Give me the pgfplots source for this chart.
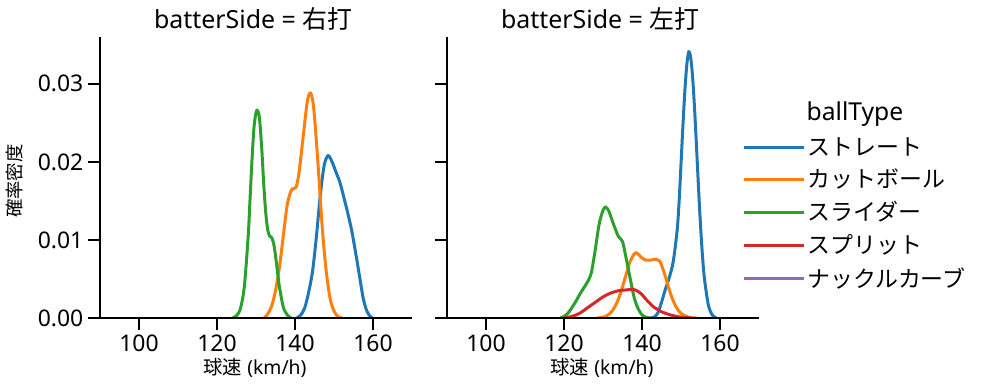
\documentclass[border=0pt]{standalone}
\usepackage{pgfplots}
\pgfplotsset{compat=1.18}
\usepackage{fontspec}
\setmainfont{Noto Sans}
\newfontfamily\jp{Noto Sans CJK JP}
\definecolor{cA}{HTML}{1F77B4}
\definecolor{cB}{HTML}{FF7F0E}
\definecolor{cC}{HTML}{2CA02C}
\definecolor{cD}{HTML}{D62728}
\definecolor{cE}{HTML}{9467BD}
\pgfplotsset{
  panel/.style={
    scale only axis, width=234pt, height=210.75pt,
    xmin=90, xmax=170, ymin=0, ymax=0.036,
    axis x line*=bottom, axis y line*=left,
    axis line style={line width=1.75pt, black, -},
    xtick={100,120,140,160}, ytick={0,0.01,0.02,0.03},
    tick align=outside, major tick length=9pt,
    tick style={line width=1.75pt, black},
    xtick pos=left, ytick pos=left,
    tick label style={font=\fontsize{17.2}{20}\selectfont},
    /pgf/number format/assume math mode=true,
    scaled y ticks=false,
    title style={font=\fontsize{18.7}{22}\selectfont, at={(axis description cs:0.491,1.0285)}, anchor=base, yshift=-6pt},
    xlabel style={font=\fontsize{14.5}{17}\selectfont, at={(axis description cs:0.497,-0.2028)}, anchor=base},
    every axis plot/.append style={line width=2.25pt, smooth, tension=0.5, no markers},
    clip mode=individual,
    axis on top,
  },
}
\begin{document}
\begin{tikzpicture}
\useasboundingbox (-75pt,-54.75pt) rectangle (665.25pt,238.5pt);
\begin{axis}[panel, at={(0pt,0pt)}, anchor=south west,
  title={batterSide = {\jp 右打}},
  xlabel={{\jp 球速} (km/h)},
  ylabel={{\jp 確率密度}},
  yticklabels={0.00,0.01,0.02,0.03},
  ylabel style={font=\fontsize{13.8}{16}\selectfont, at={(axis description cs:-0.2724,0.4875)}, anchor=center},
]
% ストレート
\addplot[cA] coordinates {(140.5,0) (141.5,0.0004) (142.5,0.0013) (143.5,0.0033) (144.5,0.0060) (145.5,0.0105) (146.5,0.0158) (147.5,0.0196) (148.5,0.0208) (149.5,0.0200) (150.5,0.0187) (151.5,0.0174) (152.5,0.0155) (153.5,0.0135) (154.5,0.0113) (155.5,0.0085) (156.5,0.0055) (157.5,0.0025) (158.5,0.0008) (159.5,0.0001) (160,0)};
% カットボール
\addplot[cB] coordinates {(132,0) (133,0.0005) (134,0.0015) (135,0.0035) (136,0.0065) (137,0.0105) (138,0.0145) (139,0.0163) (139.7,0.0166) (140.3,0.0168) (141,0.0185) (142,0.0228) (143,0.0272) (143.5,0.0285) (144,0.0288) (144.5,0.0280) (145,0.0258) (146,0.0190) (147,0.0115) (148,0.0060) (149,0.0025) (150,0.0009) (151,0.0002) (152,0)};
% スライダー
\addplot[cC] coordinates {(124,0) (125,0.0003) (126,0.0012) (127,0.0040) (128,0.0105) (128.5,0.0155) (129,0.0205) (129.5,0.0245) (130,0.0263) (130.3,0.0266) (130.7,0.0262) (131,0.0250) (131.5,0.0215) (132,0.0170) (132.5,0.0135) (133,0.0113) (133.5,0.0105) (134,0.0103) (134.5,0.0096) (135,0.0080) (135.5,0.0060) (136,0.0040) (137,0.0014) (138,0.0004) (139,0)};
\end{axis}
\begin{axis}[panel, at={(260.25pt,0pt)}, anchor=south west,
  title={batterSide = {\jp 左打}},
  xlabel={{\jp 球速} (km/h)},
  yticklabels={,,,},
  legend style={at={(axis description cs:0.9455,0.6527)}, anchor=north west, draw=none, fill=none, inner sep=0pt, outer sep=0pt, font=\jp\fontsize{17.2}{20}\selectfont, row sep=4.9pt, column sep=0pt},
  legend cell align=left,
  legend image code/.code={\draw[#1, line width=2.25pt] (0pt,0pt) -- (36.5pt,0pt); \path (0pt,0pt) -- (45pt,0pt);},
]
% ストレート
\addplot[cA] coordinates {(142,0) (143,0.0001) (144,0.0006) (145,0.0020) (146,0.0037) (147,0.0052) (148,0.0072) (149,0.0112) (149.5,0.0148) (150,0.0197) (150.5,0.0247) (151,0.0292) (151.5,0.0325) (152,0.0341) (152.5,0.0333) (153,0.0307) (153.5,0.0266) (154,0.0217) (154.5,0.0166) (155,0.0119) (155.5,0.0080) (156,0.0051) (157,0.0017) (158,0.0004) (159,0)};
% カットボール
\addplot[cB] coordinates {(128.5,0) (130,0.0001) (131,0.0003) (132,0.0007) (133,0.0014) (134,0.0025) (135,0.0040) (136,0.0057) (137,0.0073) (138,0.0082) (138.5,0.00835) (139,0.0082) (140,0.0077) (141,0.0074) (142,0.0074) (143,0.0075) (143.8,0.0075) (144.5,0.0073) (145,0.0068) (146,0.0053) (147,0.0036) (148,0.0022) (149,0.0012) (150,0.0006) (151,0.0003) (152,0.0001) (154,0)};
% スライダー
\addplot[cC] coordinates {(119,0) (120,0.0002) (121,0.0006) (122,0.0013) (123,0.0021) (124,0.0030) (125,0.0038) (126,0.0046) (127,0.0058) (128,0.0087) (129,0.0120) (130,0.0138) (130.7,0.0142) (131.5,0.0137) (132,0.0130) (133,0.0116) (134,0.0104) (135,0.0098) (136,0.0075) (137,0.0050) (138,0.0026) (139,0.0012) (140,0.0004) (141,0.0001) (142,0)};
% スプリット
\addplot[cD] coordinates {(120,0) (122,0.0002) (124,0.0006) (126,0.0013) (128,0.0020) (130,0.0027) (132,0.0032) (134,0.0035) (136,0.0036) (137.8,0.00366) (139,0.0034) (140,0.0030) (141,0.0024) (142,0.0019) (143,0.0014) (144,0.0011) (145,0.0008) (146,0.0006) (148,0.0003) (150,0.0001) (152.5,0)};
\addlegendimage{cE, line width=2.25pt}
\legend{ストレート,カットボール,スライダー,スプリット,ナックルカーブ}
\node[anchor=base, font=\fontsize{18.5}{22}\selectfont] at (axis description cs:1.3077,0.7046) {ballType};
\end{axis}
\end{tikzpicture}
\end{document}
